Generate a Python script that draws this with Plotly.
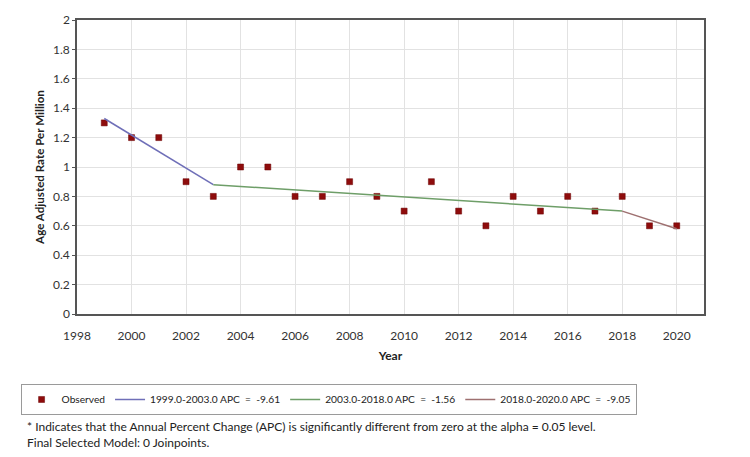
import plotly.graph_objects as go

years = list(range(1999, 2021))
observed = [1.3, 1.2, 1.2, 0.9, 0.8, 1.0, 1.0, 0.8, 0.8, 0.9, 0.8,
            0.7, 0.9, 0.7, 0.6, 0.8, 0.7, 0.8, 0.7, 0.8, 0.6, 0.6]

seg1_x = [1999, 2003]
seg1_y = [1.33, 0.88]
seg2_x = [2003, 2018]
seg2_y = [0.88, 0.70]
seg3_x = [2018, 2020]
seg3_y = [0.70, 0.58]

NB = "\u00a0"
seg_names = [f"1999.0-2003.0 APC {NB}={NB} -9.61",
             f"2003.0-2018.0 APC {NB}={NB} -1.56",
             f"2018.0-2020.0 APC {NB}={NB} -9.05"]
seg_colors = ["#6f6fb8", "#6e9e68", "#9e7070"]

x_ticks = list(range(1998, 2021, 2))
y_ticks = [0, 0.2, 0.4, 0.6, 0.8, 1, 1.2, 1.4, 1.6, 1.8, 2]
y_labels = ["0", "0.2", "0.4", "0.6", "0.8", "1", "1.2", "1.4", "1.6", "1.8", "2"]

FONT = "Lato"

fig = go.Figure()
fig.add_trace(go.Scatter(
    x=years, y=observed, mode="markers", name="Observed",
    marker=dict(symbol="square", size=6, color="#8e0c0c",
                line=dict(color="#6a0000", width=0.5)),
))
for sx, sy, nm, col in zip([seg1_x, seg2_x, seg3_x], [seg1_y, seg2_y, seg3_y],
                           seg_names, seg_colors):
    fig.add_trace(go.Scatter(x=sx, y=sy, mode="lines", name=nm,
                             line=dict(color=col, width=1.5)))

fig.update_layout(
    width=750, height=457,
    margin=dict(l=77, r=46, t=18, b=143),
    paper_bgcolor="white", plot_bgcolor="white",
    font=dict(family=FONT, size=12, color="#333"),
    showlegend=True,
    legend=dict(orientation="h", x=-0.09, xanchor="left", y=-0.238, yanchor="top",
                bordercolor="#9a9a9a", borderwidth=1,
                font=dict(family=FONT, size=10.2, color="#222"),
                itemwidth=30, tracegroupgap=0),
    xaxis=dict(range=[1998, 2021], tickvals=x_ticks, showgrid=True,
               gridcolor="#e2e2e2", gridwidth=1,
               showline=True, linecolor="#555", linewidth=1.5, mirror=True,
               zeroline=False, ticks="", ticklabelstandoff=10,
               tickfont=dict(size=12, color="#333"),
               title=dict(text="<b>Year</b>", font=dict(size=12, color="#222"),
                          standoff=9)),
    yaxis=dict(range=[0, 2], tickvals=y_ticks, ticktext=y_labels,
               showgrid=True, gridcolor="#e2e2e2", gridwidth=1,
               showline=True, linecolor="#555", linewidth=1.5, mirror=True,
               zeroline=False, ticks="outside", ticklen=3, tickcolor="#555",
               tickfont=dict(size=12, color="#333"),
               title=dict(text="<b>Age Adjusted Rate Per Million</b>",
                          font=dict(size=11.6, color="#222"), standoff=6)),
    annotations=[dict(
        xref="paper", yref="paper", x=-0.083, y=-0.35, xanchor="left", yanchor="top",
        align="left", showarrow=False,
        text="* Indicates that the Annual Percent Change (APC) is significantly different from zero at the alpha = 0.05 level.<br>Final Selected Model: 0 Joinpoints.",
        font=dict(family=FONT, size=12, color="#222"),
    )],
)

fig.write_html("out.html")
